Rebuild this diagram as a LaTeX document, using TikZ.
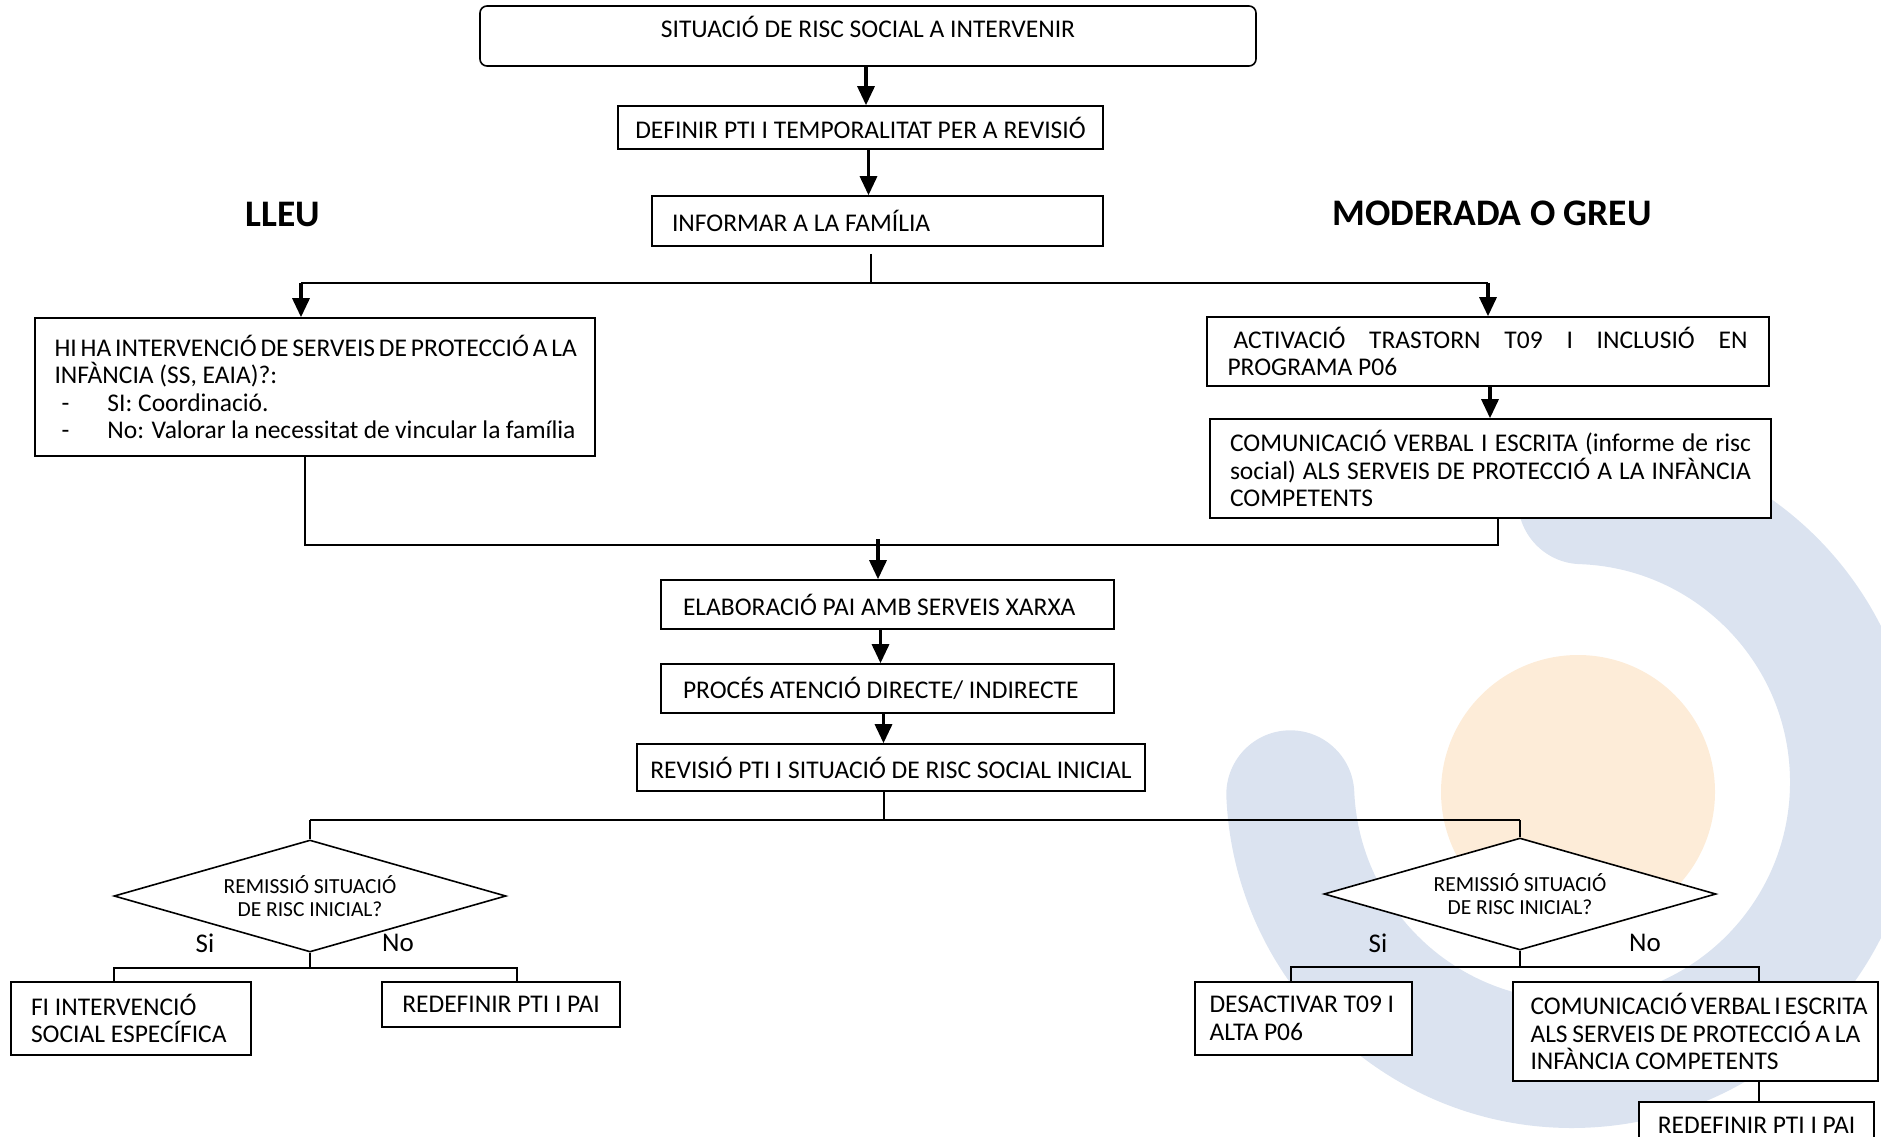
\documentclass[tikz,border=0pt]{standalone}
\usepackage{fontspec}
\setmainfont{Carlito}
\usetikzlibrary{shapes.geometric,arrows.meta}
\definecolor{wmblue}{RGB}{219,227,240}
\definecolor{wmorange}{RGB}{253,236,216}
\newcommand{\boxfont}{\fontsize{25.5}{27.5}\selectfont}
\newcommand{\qfont}{\fontsize{21.5}{22.5}\selectfont}
\newcommand{\headfont}{\fontsize{37.5}{40}\selectfont\bfseries}
\newcommand{\ynfont}{\fontsize{27}{30}\selectfont}
\newcommand{\dashitem}{\makebox[46pt][l]{-}}
\begin{document}
\begin{tikzpicture}[x=1pt, y=-1pt,
    box/.style={draw, fill=white, line width=1.6pt, inner sep=0pt, font=\boxfont},
    lbox/.style={box, text width=#1, align=flush left},
    qbox/.style={diamond, shape aspect=3.5, draw, fill=white, line width=1.6pt, inner sep=0pt,
      minimum width=392pt, minimum height=112pt, font=\qfont, align=center},
    ln/.style={line width=1.6pt},
    arr/.style={line width=3.2pt, -{Triangle[width=17pt,length=19pt]}}]
  \clip (0,0) rectangle (1881,1137);
  % logo behind the chart
  \fill[wmorange] (1578,792) circle[radius=137];
  \draw[wmblue, line width=128pt, line cap=round] (1290.3,794.3) arc[start angle=-182.5, end angle=-448, radius=282];

  \node[box, rounded corners=7pt, minimum width=776pt, minimum height=60pt, text height=18pt, text depth=15pt] (top) at (868,36) {SITUACIÓ DE RISC SOCIAL A INTERVENIR};
  \node[box, minimum width=485pt, minimum height=43pt] (def) at (860.5,127.5) {DEFINIR PTI I TEMPORALITAT PER A REVISIÓ};
  \node[lbox=411pt, minimum width=451pt, minimum height=50pt] (inf) at (877.5,221) {INFORMAR A LA FAMÍLIA};

  \node[font=\headfont] (lleu) at (283,214) {LLEU};
  \node[font=\headfont] (greu) at (1492,213) {MODERADA O GREU};

  \node[lbox=521pt, minimum width=560pt, minimum height=138pt] (hiha) at (315,387) {%
    \makebox[521pt][s]{HI HA INTERVENCIÓ DE SERVEIS DE PROTECCIÓ A LA}\\
    INFÀNCIA (SS, EAIA)?:\\
    \hspace*{7pt}\dashitem SI: Coordinació.\\
    \hspace*{7pt}\dashitem No: Valorar la necessitat de vincular la família};
  \node[lbox=521pt, minimum width=562pt, minimum height=69pt] (act) at (1488,351.5) {%
    \hspace*{6pt}\makebox[514pt][s]{ACTIVACIÓ TRASTORN T09 I INCLUSIÓ EN}\\
    PROGRAMA P06};
  \node[lbox=521pt, minimum width=561pt, minimum height=99pt] (com) at (1490.5,468.5) {%
    \makebox[521pt][s]{COMUNICACIÓ VERBAL I ESCRITA (informe de risc}\\
    \makebox[521pt][s]{social) ALS SERVEIS DE PROTECCIÓ A LA INFÀNCIA}\\
    COMPETENTS};

  \node[lbox=409pt, minimum width=453pt, minimum height=49pt] (ela) at (887.5,604.5) {ELABORACIÓ PAI AMB SERVEIS XARXA};
  \node[lbox=409pt, minimum width=453pt, minimum height=49pt] (proc) at (887.5,688.5) {PROCÉS ATENCIÓ DIRECTE/ INDIRECTE};
  \node[box, minimum width=508pt, minimum height=47pt] (rev) at (891,767.5) {REVISIÓ PTI I SITUACIÓ DE RISC SOCIAL INICIAL};

  \node[qbox] (ql) at (310,896) {REMISSIÓ SITUACIÓ\\DE RISC INICIAL?};
  \node[qbox] (qr) at (1520,894) {REMISSIÓ SITUACIÓ\\DE RISC INICIAL?};
  \node[font=\ynfont] (sil) at (205,943) {Si};
  \node[font=\ynfont] (nol) at (398,943) {No};
  \node[font=\ynfont] (sir) at (1378,943) {Si};
  \node[font=\ynfont] (nor) at (1645,943) {No};

  \node[lbox=200pt, minimum width=240pt, minimum height=73pt] (fi) at (131,1018.5) {FI INTERVENCIÓ\\SOCIAL ESPECÍFICA};
  \node[box, minimum width=238pt, minimum height=45pt] (redl) at (501,1004.5) {REDEFINIR PTI I PAI};
  \node[lbox=188pt, minimum width=217pt, minimum height=73pt] (des) at (1303.5,1018.5) {DESACTIVAR T09 I\\ALTA P06};
  \node[lbox=330pt, minimum width=365pt, minimum height=99pt] (com2) at (1695.5,1031.5) {%
    \makebox[330pt][s]{COMUNICACIÓ VERBAL I ESCRITA}\\
    \makebox[330pt][s]{ALS SERVEIS DE PROTECCIÓ A LA}\\
    INFÀNCIA COMPETENTS};
  \node[box, minimum width=235pt, minimum height=46pt] (redr) at (1756.5,1125) {REDEFINIR PTI I PAI};

  % junctions
  \coordinate (j0) at (871,283);
  \coordinate (jl) at (301,283);
  \coordinate (jr) at (1488,283);
  \coordinate (m1) at (305,545);
  \coordinate (m2) at (1498,545);
  \coordinate (m3) at (878,545);
  \coordinate (s0) at (884,820);
  \coordinate (bl1) at (114,968);
  \coordinate (bl2) at (517,968);
  \coordinate (br1) at (1291,967);
  \coordinate (br2) at (1759,967);

  \draw[arr] ([xshift=-2pt]top.south) -- ([xshift=-2pt]top.south |- def.north);
  \draw[arr] ([xshift=8pt]def.south) -- ([xshift=8pt]def.south |- inf.north);
  \draw[ln] ([yshift=-7pt]inf.south -| j0) -- (j0);
  \draw[ln] (jl) -- (jr);
  \draw[arr] (jl) -- (jl |- hiha.north);
  \draw[arr] (jr) -- (jr |- act.north);
  \draw[arr] ([xshift=2pt]act.south) -- ([xshift=2pt]act.south |- com.north);
  \draw[ln] (hiha.south -| m1) -- (m1) -- (m2) -- (com.south -| m2);
  \draw[arr] ([yshift=6pt]m3) -- (m3 |- ela.north);
  \draw[arr] ([xshift=-7pt]ela.south) -- ([xshift=-7pt]ela.south |- proc.north);
  \draw[arr] ([xshift=-4pt]proc.south) -- ([xshift=-4pt]proc.south |- rev.north);
  \draw[ln] (rev.south -| s0) -- (s0);
  \draw[ln] (ql.north |- s0) -- (qr.north |- s0);
  \draw[ln] (ql.north |- s0) -- (ql.north);
  \draw[ln] (qr.north |- s0) -- (qr.north);
  \draw[ln] (ql.south) -- (ql.south |- bl1);
  \draw[ln] (bl1 |- fi.north) -- (bl1) -- (bl2) -- (bl2 |- redl.north);
  \draw[ln] (qr.south) -- (qr.south |- br1);
  \draw[ln] (br1 |- des.north) -- (br1) -- (br2) -- (br2 |- com2.north);
  \draw[ln] (com2.south -| br2) -- (redr.north -| br2);
\end{tikzpicture}
\end{document}
